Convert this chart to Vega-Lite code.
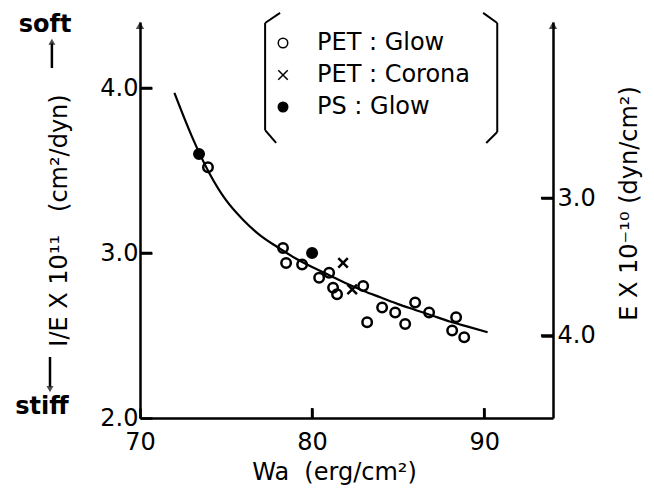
{
  "$schema": "https://vega.github.io/schema/vega-lite/v6.json",
  "width": 413,
  "height": 396,
  "autosize": {"type": "none"},
  "padding": {"left": 140, "top": 22, "right": 101, "bottom": 70},
  "background": "white",
  "config": {
    "font": "DejaVu Sans",
    "view": {"stroke": null},
    "axis": {
      "grid": false,
      "domainColor": "black",
      "domainWidth": 2.5,
      "tickColor": "black",
      "tickWidth": 2.5,
      "labelColor": "black",
      "titleColor": "black",
      "labelFont": "DejaVu Sans",
      "titleFont": "DejaVu Sans",
      "labelFontSize": 24,
      "titleFontSize": 24,
      "titleFontWeight": "normal",
      "labelFlush": false,
      "labelOverlap": false
    },
    "legend": {
      "labelFont": "DejaVu Sans",
      "labelFontSize": 24,
      "labelColor": "black"
    }
  },
  "datasets": {
    "curve": [
      {"Wa": 72.0, "invE": 3.97},
      {"Wa": 73.0, "invE": 3.71},
      {"Wa": 74.0, "invE": 3.49},
      {"Wa": 75.0, "invE": 3.32},
      {"Wa": 76.0, "invE": 3.2},
      {"Wa": 77.0, "invE": 3.105},
      {"Wa": 78.0, "invE": 3.035},
      {"Wa": 79.0, "invE": 2.97},
      {"Wa": 80.0, "invE": 2.915},
      {"Wa": 81.0, "invE": 2.865},
      {"Wa": 82.0, "invE": 2.815},
      {"Wa": 83.0, "invE": 2.77},
      {"Wa": 84.0, "invE": 2.73},
      {"Wa": 85.0, "invE": 2.69},
      {"Wa": 86.0, "invE": 2.655},
      {"Wa": 87.0, "invE": 2.62},
      {"Wa": 88.0, "invE": 2.585},
      {"Wa": 89.0, "invE": 2.555},
      {"Wa": 90.2, "invE": 2.52}
    ],
    "points": [
      {"series": "PS : Glow", "Wa": 73.43, "invE": 3.6},
      {"series": "PS : Glow", "Wa": 80.0, "invE": 3.0},
      {"series": "PET : Glow", "Wa": 73.95, "invE": 3.52},
      {"series": "PET : Glow", "Wa": 78.31, "invE": 3.03},
      {"series": "PET : Glow", "Wa": 78.49, "invE": 2.94},
      {"series": "PET : Glow", "Wa": 79.42, "invE": 2.93},
      {"series": "PET : Glow", "Wa": 80.41, "invE": 2.85},
      {"series": "PET : Glow", "Wa": 80.99, "invE": 2.88},
      {"series": "PET : Glow", "Wa": 81.22, "invE": 2.79},
      {"series": "PET : Glow", "Wa": 81.45, "invE": 2.75},
      {"series": "PET : Glow", "Wa": 82.97, "invE": 2.8},
      {"series": "PET : Glow", "Wa": 84.07, "invE": 2.67},
      {"series": "PET : Glow", "Wa": 83.2, "invE": 2.58},
      {"series": "PET : Glow", "Wa": 84.83, "invE": 2.64},
      {"series": "PET : Glow", "Wa": 85.41, "invE": 2.57},
      {"series": "PET : Glow", "Wa": 85.99, "invE": 2.7},
      {"series": "PET : Glow", "Wa": 86.8, "invE": 2.64},
      {"series": "PET : Glow", "Wa": 88.37, "invE": 2.61},
      {"series": "PET : Glow", "Wa": 88.14, "invE": 2.53},
      {"series": "PET : Glow", "Wa": 88.84, "invE": 2.49},
      {"series": "PET : Corona", "Wa": 81.8, "invE": 2.94},
      {"series": "PET : Corona", "Wa": 82.33, "invE": 2.78}
    ]
  },
  "resolve": {"axis": {"x": "independent", "y": "independent"}},
  "layer": [
    {
      "data": {"name": "curve"},
      "mark": {"type": "line", "color": "black", "strokeWidth": 2.2, "interpolate": "monotone"},
      "encoding": {
        "x": {
          "field": "Wa", "type": "quantitative",
          "scale": {"domain": [70, 94], "nice": false, "zero": false},
          "axis": {
            "values": [70, 80, 90], "format": "d", "tickSize": -10, "labelPadding": 22,
            "title": "Wa\u00a0\u00a0(erg/cm²)", "titlePadding": 6, "titleX": 194
          }
        },
        "y": {
          "field": "invE", "type": "quantitative",
          "scale": {"domain": [2.0, 4.4], "nice": false, "zero": false},
          "axis": {
            "orient": "left", "values": [2, 3, 4], "format": ".1f", "tickSize": -12, "labelPadding": 14,
            "title": "I/E X 10¹¹\u00a0\u00a0\u00a0(cm²/dyn)", "titlePadding": 28
          }
        }
      }
    },
    {
      "data": {"name": "points"},
      "mark": {"type": "point", "stroke": "black", "strokeWidth": 2.5, "size": 90, "opacity": 1, "filled": true},
      "encoding": {
        "x": {"field": "Wa", "type": "quantitative", "axis": null},
        "y": {
          "field": "invE", "type": "quantitative",
          "axis": {
            "orient": "right", "values": [2.5, 3.3333],
            "labelExpr": "datum.value < 3 ? '4.0' : '3.0'",
            "tickSize": -12, "labelPadding": 16,
            "title": "E X 10⁻¹⁰ (dyn/cm²)", "titleAngle": 270, "titlePadding": 46, "titleY": 181
          }
        },
        "shape": {
          "field": "series", "type": "nominal",
          "scale": {"domain": ["PET : Glow", "PET : Corona", "PS : Glow"], "range": ["circle", "M-1,-1L1,1M-1,1L1,-1", "circle"]},
          "legend": {
            "orient": "none", "legendX": 131, "legendY": 9, "title": null,
            "symbolSize": 90, "labelOffset": 22, "rowPadding": 8, "padding": 0,
            "encode": {"symbols": {"update": {"stroke": {"value": "black"}, "strokeWidth": {"value": 2.5}}}}
          }
        },
        "fill": {
          "field": "series", "type": "nominal",
          "scale": {"domain": ["PET : Glow", "PET : Corona", "PS : Glow"], "range": ["transparent", "black", "black"]},
          "legend": {
            "orient": "none", "legendX": 131, "legendY": 9, "title": null,
            "symbolSize": 90, "labelOffset": 22, "rowPadding": 8, "padding": 0,
            "encode": {"symbols": {"update": {"stroke": {"value": "black"}, "strokeWidth": {"value": 2.5}}}}
          }
        }
      }
    },
    {
      "data": {"values": [{"tick": 3}, {"tick": 4}]},
      "mark": {"type": "rule", "color": "black", "strokeWidth": 2.5},
      "encoding": {
        "y": {"field": "tick", "type": "quantitative", "axis": null},
        "x": {"datum": 70, "type": "quantitative", "axis": null},
        "x2": {"datum": 70.7}
      }
    },
    {
      "data": {"values": [{"tick": 2.5}, {"tick": 3.3333}]},
      "mark": {"type": "rule", "color": "black", "strokeWidth": 2.5},
      "encoding": {
        "y": {"field": "tick", "type": "quantitative", "axis": null},
        "x": {"datum": 93.3, "type": "quantitative", "axis": null},
        "x2": {"datum": 94}
      }
    },
    {
      "data": {"values": [{"tick": 80}, {"tick": 90}]},
      "mark": {"type": "rule", "color": "black", "strokeWidth": 2.5},
      "encoding": {
        "x": {"field": "tick", "type": "quantitative", "axis": null},
        "y": {"datum": 2.0, "type": "quantitative", "axis": null},
        "y2": {"datum": 2.06}
      }
    },
    {
      "data": {"values": [{}]},
      "mark": {"type": "point", "shape": "triangle-up", "filled": true, "color": "black", "size": 70},
      "encoding": {
        "x": {"datum": 70, "type": "quantitative", "axis": null},
        "y": {"datum": 4.38, "type": "quantitative", "axis": null}
      }
    },
    {
      "data": {"values": [{}]},
      "mark": {"type": "point", "shape": "triangle-up", "filled": true, "color": "black", "size": 70},
      "encoding": {
        "x": {"datum": 94, "type": "quantitative", "axis": null},
        "y": {"datum": 4.38, "type": "quantitative", "axis": null}
      }
    },
    {
      "data": {"values": [{}]},
      "mark": {"type": "rule", "color": "black", "strokeWidth": 2},
      "encoding": {
        "x": {"datum": 77.27, "type": "quantitative", "axis": null},
        "y": {"datum": 4.394, "type": "quantitative", "axis": null},
        "x2": {"datum": 77.27},
        "y2": {"datum": 3.745}
      }
    },
    {
      "data": {"values": [{}]},
      "mark": {"type": "rule", "color": "black", "strokeWidth": 2},
      "encoding": {
        "x": {"datum": 77.27, "type": "quantitative", "axis": null},
        "y": {"datum": 4.394, "type": "quantitative", "axis": null},
        "x2": {"datum": 78.14},
        "y2": {"datum": 4.455}
      }
    },
    {
      "data": {"values": [{}]},
      "mark": {"type": "rule", "color": "black", "strokeWidth": 2},
      "encoding": {
        "x": {"datum": 77.27, "type": "quantitative", "axis": null},
        "y": {"datum": 3.745, "type": "quantitative", "axis": null},
        "x2": {"datum": 77.91},
        "y2": {"datum": 3.667}
      }
    },
    {
      "data": {"values": [{}]},
      "mark": {"type": "rule", "color": "black", "strokeWidth": 2},
      "encoding": {
        "x": {"datum": 90.76, "type": "quantitative", "axis": null},
        "y": {"datum": 4.394, "type": "quantitative", "axis": null},
        "x2": {"datum": 90.76},
        "y2": {"datum": 3.733}
      }
    },
    {
      "data": {"values": [{}]},
      "mark": {"type": "rule", "color": "black", "strokeWidth": 2},
      "encoding": {
        "x": {"datum": 90.76, "type": "quantitative", "axis": null},
        "y": {"datum": 4.394, "type": "quantitative", "axis": null},
        "x2": {"datum": 89.94},
        "y2": {"datum": 4.455}
      }
    },
    {
      "data": {"values": [{}]},
      "mark": {"type": "rule", "color": "black", "strokeWidth": 2},
      "encoding": {
        "x": {"datum": 90.76, "type": "quantitative", "axis": null},
        "y": {"datum": 3.733, "type": "quantitative", "axis": null},
        "x2": {"datum": 90.12},
        "y2": {"datum": 3.667}
      }
    },
    {
      "data": {"values": [{}]},
      "mark": {"type": "text", "fontSize": 24, "fontWeight": "bold", "align": "center", "baseline": "middle", "color": "black"},
      "encoding": {
        "x": {"datum": 64.48, "type": "quantitative", "axis": null},
        "y": {"datum": 4.382, "type": "quantitative", "axis": null},
        "text": {"value": "soft"}
      }
    },
    {
      "data": {"values": [{}]},
      "mark": {"type": "text", "fontSize": 24, "fontWeight": "bold", "align": "center", "baseline": "middle", "color": "black"},
      "encoding": {
        "x": {"datum": 64.3, "type": "quantitative", "axis": null},
        "y": {"datum": 2.067, "type": "quantitative", "axis": null},
        "text": {"value": "stiff"}
      }
    },
    {
      "data": {"values": [{}]},
      "mark": {"type": "rule", "color": "black", "strokeWidth": 2.5},
      "encoding": {
        "x": {"datum": 64.88, "type": "quantitative", "axis": null},
        "y": {"datum": 4.121, "type": "quantitative", "axis": null},
        "x2": {"datum": 64.88},
        "y2": {"datum": 4.27}
      }
    },
    {
      "data": {"values": [{}]},
      "mark": {"type": "point", "shape": "triangle-up", "filled": true, "color": "black", "size": 50},
      "encoding": {
        "x": {"datum": 64.88, "type": "quantitative", "axis": null},
        "y": {"datum": 4.28, "type": "quantitative", "axis": null}
      }
    },
    {
      "data": {"values": [{}]},
      "mark": {"type": "rule", "color": "black", "strokeWidth": 2.5},
      "encoding": {
        "x": {"datum": 64.77, "type": "quantitative", "axis": null},
        "y": {"datum": 2.37, "type": "quantitative", "axis": null},
        "x2": {"datum": 64.77},
        "y2": {"datum": 2.19}
      }
    },
    {
      "data": {"values": [{}]},
      "mark": {"type": "point", "shape": "triangle-down", "filled": true, "color": "black", "size": 50},
      "encoding": {
        "x": {"datum": 64.77, "type": "quantitative", "axis": null},
        "y": {"datum": 2.175, "type": "quantitative", "axis": null}
      }
    }
  ]
}
